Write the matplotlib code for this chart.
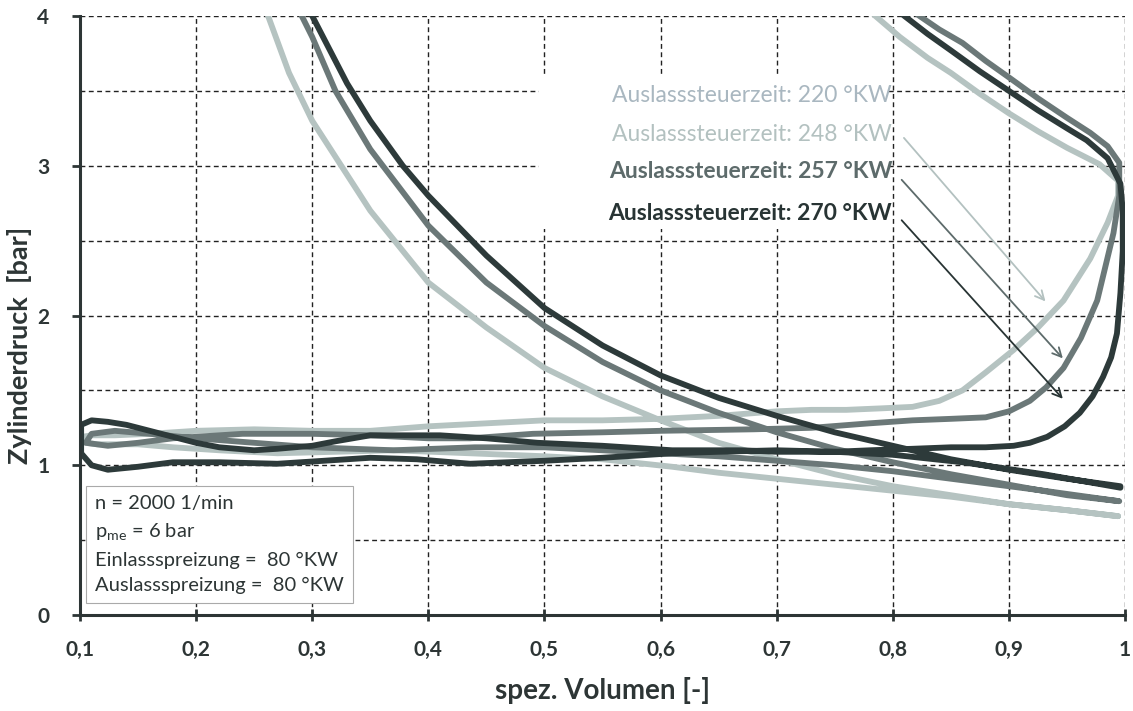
import matplotlib
matplotlib.use("Agg")
import matplotlib.pyplot as plt
from matplotlib.patches import Rectangle

plt.rcParams["font.family"] = ["Lato", "DejaVu Sans"]

# --- Data (v = spez. Volumen [-], p = Zylinderdruck [bar]) ---
# Each loop is drawn as: expansion (from top) -> blowdown/exhaust (to v=0.1)
#                        -> intake (to v=1) -> compression (up to top)

# light curve (248 °KW)
light_exp_v = [0.775, 0.785, 0.806, 0.83, 0.85, 0.875, 0.90, 0.925, 0.95, 0.978, 0.994]
light_exp_p = [4.08, 4.0, 3.86, 3.72, 3.62, 3.48, 3.35, 3.23, 3.12, 3.01, 2.9]
light_exh_v = [0.994, 0.985, 0.97, 0.947, 0.925, 0.904, 0.88, 0.86, 0.84, 0.817, 0.79, 0.76, 0.73, 0.70,
               0.65, 0.6, 0.55, 0.5, 0.45, 0.4, 0.35, 0.3, 0.25, 0.2, 0.16, 0.13, 0.11, 0.102]
light_exh_p = [2.8, 2.62, 2.38, 2.1, 1.92, 1.77, 1.62, 1.5, 1.43, 1.39, 1.38, 1.37, 1.37, 1.36,
               1.33, 1.31, 1.3, 1.3, 1.28, 1.26, 1.23, 1.23, 1.24, 1.23, 1.21, 1.2, 1.2, 1.19]
light_int_v = [0.102, 0.105, 0.115, 0.13, 0.15, 0.18, 0.22, 0.27, 0.32, 0.37, 0.436, 0.5, 0.55, 0.61,
               0.65, 0.7, 0.75, 0.8, 0.85, 0.9, 0.95, 0.994]
light_int_p = [1.16, 1.15, 1.14, 1.14, 1.14, 1.12, 1.1, 1.08, 1.09, 1.1, 1.08, 1.06, 1.04, 0.99,
               0.95, 0.91, 0.87, 0.83, 0.79, 0.74, 0.7, 0.66]
light_cmp_v = [0.994, 0.95, 0.9, 0.85, 0.8, 0.75, 0.7, 0.65, 0.6, 0.55, 0.5, 0.45, 0.4, 0.35, 0.3,
               0.28, 0.262, 0.25]
light_cmp_p = [0.66, 0.7, 0.74, 0.8, 0.86, 0.94, 1.04, 1.15, 1.3, 1.46, 1.65, 1.92, 2.22, 2.7, 3.3,
               3.62, 4.0, 4.3]

# medium curve (257 °KW)
med_exp_v = [0.81, 0.823, 0.84, 0.86, 0.88, 0.90, 0.925, 0.95, 0.97, 0.985, 0.995]
med_exp_p = [4.08, 4.0, 3.91, 3.82, 3.7, 3.59, 3.45, 3.32, 3.22, 3.13, 3.02]
med_exh_v = [0.995, 0.99, 0.976, 0.962, 0.947, 0.932, 0.918, 0.9, 0.88, 0.85, 0.817, 0.78, 0.73, 0.68,
             0.6, 0.55, 0.49, 0.436, 0.4, 0.35, 0.3, 0.24, 0.18, 0.15, 0.124, 0.105]
med_exh_p = [2.8, 2.55, 2.1, 1.85, 1.65, 1.52, 1.43, 1.36, 1.32, 1.31, 1.3, 1.28, 1.25, 1.24,
             1.23, 1.22, 1.21, 1.18, 1.18, 1.2, 1.21, 1.21, 1.18, 1.15, 1.13, 1.15]
med_int_v = [0.105, 0.11, 0.13, 0.16, 0.2, 0.25, 0.3, 0.37, 0.44, 0.5, 0.55, 0.6, 0.65, 0.7, 0.75,
             0.8, 0.86, 0.93, 0.995]
med_int_p = [1.15, 1.21, 1.23, 1.21, 1.18, 1.15, 1.12, 1.1, 1.12, 1.12, 1.1, 1.08, 1.06, 1.03, 1.0,
             0.96, 0.9, 0.83, 0.76]
med_cmp_v = [0.995, 0.95, 0.9, 0.85, 0.8, 0.75, 0.7, 0.65, 0.6, 0.55, 0.5, 0.45, 0.4, 0.35, 0.32,
             0.3, 0.291, 0.28]
med_cmp_p = [0.76, 0.8, 0.87, 0.94, 1.02, 1.11, 1.22, 1.35, 1.5, 1.69, 1.93, 2.22, 2.6, 3.11, 3.5,
             3.86, 4.0, 4.2]

# dark curve (270 °KW)
dark_exp_v = [0.80, 0.81, 0.83, 0.85, 0.875, 0.90, 0.925, 0.95, 0.967, 0.985, 0.996]
dark_exp_p = [4.07, 4.0, 3.88, 3.77, 3.63, 3.5, 3.37, 3.25, 3.17, 3.05, 2.88]
dark_exh_v = [0.998, 0.998, 0.996, 0.993, 0.988, 0.981, 0.972, 0.961, 0.948, 0.933, 0.918, 0.904,
              0.88, 0.85, 0.817, 0.78, 0.75, 0.7, 0.67, 0.61, 0.55, 0.494, 0.45, 0.41, 0.38, 0.35,
              0.32, 0.3, 0.27, 0.25, 0.22, 0.2, 0.18, 0.16, 0.14, 0.124, 0.11, 0.101]
dark_exh_p = [2.7, 2.43, 2.15, 1.88, 1.72, 1.59, 1.46, 1.35, 1.26, 1.19, 1.15, 1.13,
              1.12, 1.12, 1.11, 1.1, 1.09, 1.09, 1.1, 1.1, 1.13, 1.15, 1.18, 1.2, 1.2, 1.2,
              1.16, 1.13, 1.11, 1.1, 1.12, 1.15, 1.19, 1.23, 1.27, 1.29, 1.3, 1.27]
dark_int_v = [0.101, 0.101, 0.11, 0.124, 0.15, 0.18, 0.22, 0.27, 0.31, 0.35, 0.39, 0.436, 0.5, 0.55,
              0.61, 0.65, 0.7, 0.75, 0.8, 0.86, 0.93, 0.996]
dark_int_p = [1.22, 1.08, 1.0, 0.97, 0.99, 1.02, 1.02, 1.01, 1.03, 1.05, 1.04, 1.01, 1.03, 1.05,
              1.08, 1.09, 1.1, 1.09, 1.07, 1.02, 0.94, 0.85]
dark_cmp_v = [0.996, 0.95, 0.9, 0.85, 0.8, 0.75, 0.7, 0.65, 0.6, 0.55, 0.5, 0.45, 0.4, 0.378, 0.35,
              0.33, 0.3, 0.29]
dark_cmp_p = [0.86, 0.91, 0.97, 1.04, 1.13, 1.22, 1.33, 1.45, 1.6, 1.8, 2.05, 2.4, 2.8, 3.0, 3.3,
              3.55, 4.0, 4.18]

labels = ["Auslasssteuerzeit: 220 °KW", "Auslasssteuerzeit: 248 °KW",
          "Auslasssteuerzeit: 257 °KW", "Auslasssteuerzeit: 270 °KW"]
label_y = [3.47, 3.21, 2.96, 2.68]
label_colors = ["#a9b7c0", "#b3c1c0", "#5d6b6b", "#283434"]
label_weights = ["normal", "normal", "bold", "bold"]
arrow_start = [None, (0.808, 3.2), (0.806, 2.92), (0.806, 2.65)]
arrow_end = [None, (0.933, 2.08), (0.948, 1.7), (0.948, 1.43)]

info_lines = ["n = 2000 1/min", r"p$_{\mathregular{me}}$ = 6 bar",
              "Einlassspreizung =  80 °KW", "Auslassspreizung =  80 °KW"]

c_light = "#b5c3c1"
c_med = "#6b7878"
c_dark = "#2d3a3a"
txt_col = "#2d3535"


def loop(*segs):
    out = []
    for s in segs:
        out += s
    return out


fig = plt.figure(figsize=(11.33, 7.11), dpi=100)
ax = fig.add_axes([0.0706, 0.135, 0.9224, 0.8425])

line_kw = dict(lw=4.2, solid_capstyle="round", solid_joinstyle="round")
ax.plot(loop(light_exp_v, light_exh_v, light_int_v, light_cmp_v),
        loop(light_exp_p, light_exh_p, light_int_p, light_cmp_p), color=c_light, zorder=3, **line_kw)
ax.plot(loop(med_exp_v, med_exh_v, med_int_v, med_cmp_v),
        loop(med_exp_p, med_exh_p, med_int_p, med_cmp_p), color=c_med, zorder=4, **line_kw)
ax.plot(loop(dark_exp_v, dark_exh_v, dark_int_v, dark_cmp_v),
        loop(dark_exp_p, dark_exh_p, dark_int_p, dark_cmp_p), color=c_dark, zorder=5, **line_kw)

ax.set_xlim(0.1, 1.0)
ax.set_ylim(0, 4)
ax.set_xticks([0.1 * i for i in range(1, 11)])
ax.set_xticklabels(["0,1", "0,2", "0,3", "0,4", "0,5", "0,6", "0,7", "0,8", "0,9", "1"])
ax.set_yticks([0, 1, 2, 3, 4])
ax.set_yticks([0.5, 1.5, 2.5, 3.5], minor=True)

grid_kw = dict(color="#222222", ls=(0, (3.5, 2.5)), lw=1.0)
ax.grid(True, which="major", axis="both", **grid_kw)
ax.grid(True, which="minor", axis="y", **grid_kw)
ax.set_axisbelow(True)

for s in ["top", "right"]:
    ax.spines[s].set_visible(False)
for s in ["left", "bottom"]:
    ax.spines[s].set_linewidth(2.2)
    ax.spines[s].set_color(txt_col)
    ax.spines[s].set_zorder(6)

ax.tick_params(axis="x", which="major", direction="inout", length=8, width=2, color=txt_col, pad=14)
ax.tick_params(axis="y", which="major", direction="out", length=6, width=2, color=txt_col, pad=16)
ax.tick_params(axis="y", which="minor", length=0)
for lab in ax.get_xticklabels() + ax.get_yticklabels():
    lab.set_fontweight("bold")
    lab.set_fontsize(15)
    lab.set_color(txt_col)

ax.set_xlabel("spez. Volumen [-]", fontsize=20, fontweight="bold", color=txt_col, labelpad=12)
ax.set_ylabel("Zylinderdruck  [bar]", fontsize=19.5, fontweight="bold", color=txt_col)
ax.yaxis.set_label_coords(-0.046, 0.45)

# white area behind the annotation labels (hides the grid like the original)
ax.add_patch(Rectangle((0.495, 2.58), 0.3, 1.02, facecolor="white", edgecolor="none", zorder=1.5))

for txt, y, col, w in zip(labels, label_y, label_colors, label_weights):
    ax.text(0.7995, y, txt, ha="right", va="center", fontsize=16.5, color=col, fontweight=w, zorder=7)

for s, e, col in zip(arrow_start, arrow_end, label_colors):
    if s is None:
        continue
    ax.annotate("", xy=e, xytext=s,
                arrowprops=dict(arrowstyle="->", color=col, lw=1.3, mutation_scale=16), zorder=7)

ax.text(0.113, 0.47, "\n".join(info_lines), ha="left", va="center", fontsize=14.5,
        color=txt_col, linespacing=1.6, zorder=7,
        bbox=dict(boxstyle="square,pad=0.45", facecolor="white", edgecolor="#aaaaaa", lw=0.8))

fig.savefig("out.png", dpi=100)
